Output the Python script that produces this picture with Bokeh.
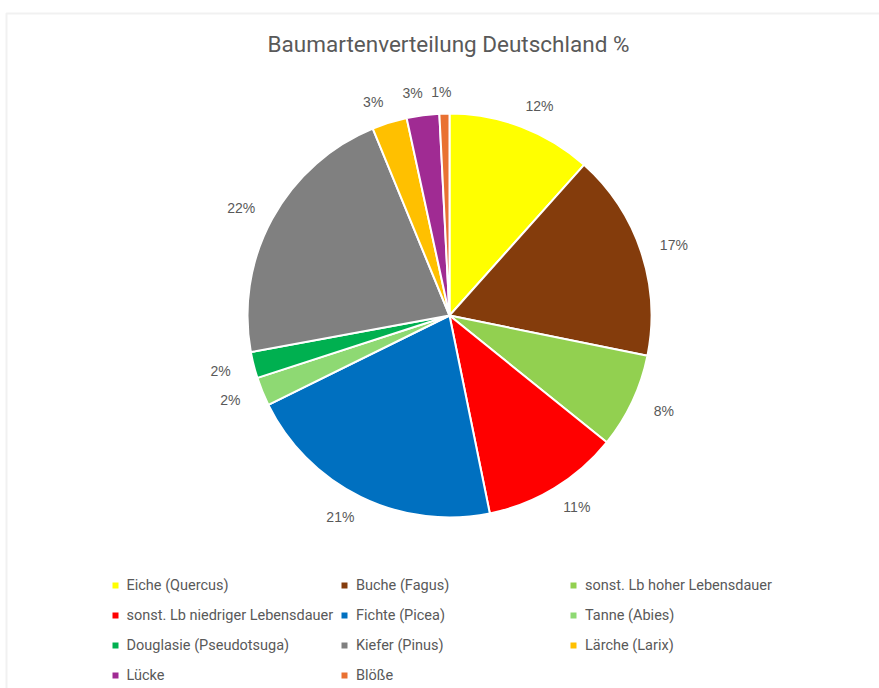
import math
from bokeh.plotting import figure
from bokeh.models import Range1d, ColumnDataSource, Label, Legend, LegendItem, BoxAnnotation
from bokeh.core.properties import value
from bokeh.embed import file_html
from bokeh.resources import INLINE

# ---- data ----
categories = ["Eiche (Quercus)", "Buche (Fagus)", "sonst. Lb hoher Lebensdauer",
              "sonst. Lb niedriger Lebensdauer", "Fichte (Picea)", "Tanne (Abies)",
              "Douglasie (Pseudotsuga)", "Kiefer (Pinus)", "Lärche (Larix)", "Lücke", "Blöße"]
shares = [11.6, 16.6, 7.6, 11.0, 20.9, 2.3, 2.1, 21.7, 2.8, 2.6, 0.8]
colors = ["#FFFF00", "#843C0C", "#92D050", "#FF0000", "#0070C0", "#8ED973",
          "#00B050", "#808080", "#FFC000", "#A02B93", "#E97132"]
title_text = "Baumartenverteilung Deutschland %"

# ---- geometry ----
R = 202
LABEL_D = R + 22
total = sum(shares)
starts, ends, lx, ly, labels = [], [], [], [], []
cum = 0.0
for v in shares:
    a0 = cum / total * 2 * math.pi
    cum += v
    a1 = cum / total * 2 * math.pi
    starts.append(math.pi / 2 - a0)
    ends.append(math.pi / 2 - a1)
    mid = (a0 + a1) / 2
    s = math.sin(mid)
    lx.append(LABEL_D * s + 13 * s / (abs(s) + 0.1))
    ly.append(LABEL_D * math.cos(mid))
    labels.append(f"{round(v / total * 100)}%")

src = ColumnDataSource(dict(cat=categories, val=shares, start=starts, end=ends,
                            color=colors, lx=lx, ly=ly, lab=labels))

p = figure(width=879, height=688, x_range=Range1d(-449, 430), y_range=Range1d(-373, 315),
           x_axis_type=None, y_axis_type=None, toolbar_location=None, output_backend="svg",
           min_border_left=0, min_border_right=0, min_border_top=0, min_border_bottom=0)
p.grid.visible = False
p.outline_line_color = None
p.background_fill_color = "white"
p.border_fill_color = "white"

# chart-area border (only top and left are visible in the window)
p.add_layout(BoxAnnotation(left=-443, top=302, right=470, bottom=-420, fill_alpha=0,
                           line_color="#d0d0d0", line_width=2, level="underlay"))

w = p.wedge(x=0, y=0, radius=R, start_angle="start", end_angle="end", direction="clock",
            fill_color="color", line_color="white", line_width=2, source=src)

p.text(x="lx", y="ly", text="lab", source=src, text_align="center", text_baseline="middle",
       text_font=value("Liberation Sans"), text_font_size="14px", text_color="#595959")

p.add_layout(Label(x=-1, y=272, text=title_text, text_align="center", text_baseline="middle",
                   text_font="Roboto", text_font_size="22.5px", text_color="#595959"))

cols = [[0, 3, 6, 9], [1, 4, 7, 10], [2, 5, 8]]
xs = [109.5, 339, 568]
for idxs, vx in zip(cols, xs):
    items = [LegendItem(label=categories[i], renderers=[w], index=i) for i in idxs]
    n = len(idxs)
    height = n * 20 + (n - 1) * 10
    vy = 688 - (575 + height)
    leg = Legend(items=items, location=(vx, vy), orientation="vertical",
                 glyph_width=10, glyph_height=10, label_standoff=7, label_height=20,
                 spacing=10, padding=0, margin=0, border_line_alpha=0,
                 background_fill_alpha=0, label_text_font="Roboto",
                 label_text_font_size="14.5px", label_text_color="#595959")
    p.add_layout(leg, "center")

open("out.html", "w").write(file_html(p, INLINE))
